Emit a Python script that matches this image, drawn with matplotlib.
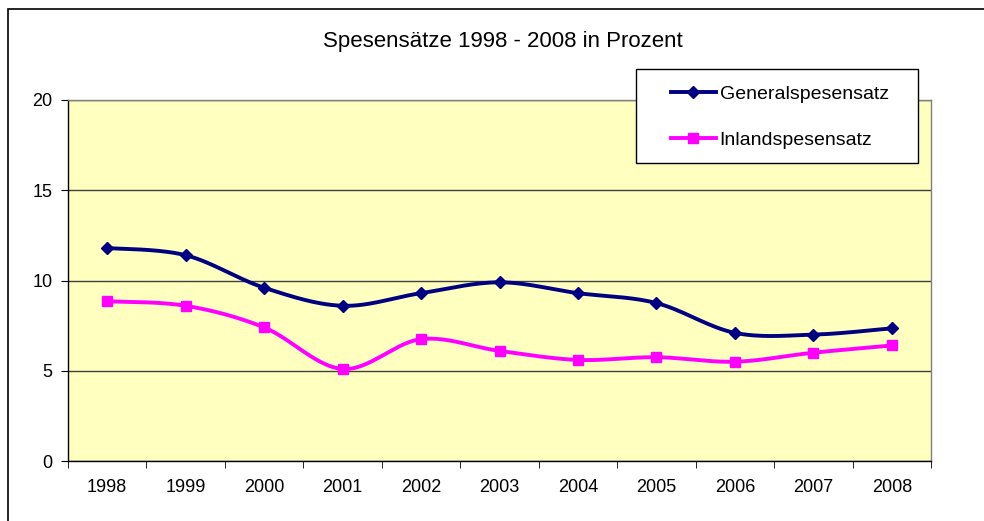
import numpy as np
import matplotlib
matplotlib.use("Agg")
import matplotlib.pyplot as plt
from matplotlib.patches import Rectangle
from matplotlib.lines import Line2D

years = ["1998", "1999", "2000", "2001", "2002", "2003", "2004", "2005", "2006", "2007", "2008"]
general = [11.8, 11.4, 9.6, 8.6, 9.3, 9.9, 9.3, 8.75, 7.1, 7.0, 7.35]
inland = [8.85, 8.6, 7.4, 5.1, 6.75, 6.1, 5.6, 5.75, 5.5, 6.0, 6.4]
title = "Spesensätze 1998 - 2008 in Prozent"
yticks = [0, 5, 10, 15, 20]

plt.rcParams['font.family'] = ['Liberation Sans', 'DejaVu Sans']


def smooth(xs, ys, n=30):
    # Excel-style smoothed line: cubic Bezier with Catmull-Rom control points
    xs = np.asarray(xs, float)
    ys = np.asarray(ys, float)
    P = np.column_stack([xs, ys])
    out = [P[0]]
    for i in range(len(P) - 1):
        p0 = P[i - 1] if i > 0 else P[i]
        p1 = P[i]
        p2 = P[i + 1]
        p3 = P[i + 2] if i + 2 < len(P) else P[i + 1]
        c1 = p1 + (p2 - p0) / 6.0
        c2 = p2 - (p3 - p1) / 6.0
        t = np.linspace(0, 1, n)[1:, None]
        seg = ((1 - t) ** 3) * p1 + 3 * ((1 - t) ** 2) * t * c1 + 3 * (1 - t) * t ** 2 * c2 + t ** 3 * p2
        out.extend(seg)
    out = np.array(out)
    return out[:, 0], out[:, 1]


W, H = 984, 521
fig = plt.figure(figsize=(W / 100, H / 100), dpi=100)
fig.patch.set_facecolor("white")

# outer chart frame (cut off at right and bottom)
fig.patches.append(Rectangle((8 / W, -0.2), 1.5, 1.2 - 9 / H, transform=fig.transFigure,
                             fill=False, edgecolor="black", linewidth=1.2, zorder=0))

ax = fig.add_axes([68 / W, (H - 461) / H, (931 - 68) / W, (461 - 100) / H])
ax.set_facecolor("#FFFFC0")

x = np.arange(len(years))
gx, gy = smooth(x, general)
ix, iy = smooth(x, inland)
ax.plot(gx, gy, color="#000080", lw=2.8, solid_capstyle="round", zorder=3)
ax.plot(x, general, linestyle="none", marker="D", markersize=6.5, color="#000080", zorder=4)
ax.plot(ix, iy, color="#FF00FF", lw=2.8, solid_capstyle="round", zorder=3)
ax.plot(x, inland, linestyle="none", marker="s", markersize=6.5, color="#FF00FF", zorder=4)

ax.set_xlim(-0.5, len(years) - 0.5)
ax.set_ylim(0, 20)
ax.set_yticks(yticks)
ax.set_yticklabels([str(v) for v in yticks], fontsize=13)
ax.yaxis.grid(True, color="#404040", lw=1.0)
ax.set_axisbelow(True)

ax.set_xticks(x)
ax.set_xticklabels(years, fontsize=13)
ax.tick_params(axis="x", length=0, pad=13)
ax.set_xticks(np.arange(-0.5, len(years)), minor=True)
ax.tick_params(axis="x", which="minor", length=5, direction="out", color="black")
ax.tick_params(axis="y", length=5, direction="out", pad=6)

for s in ["top", "right"]:
    ax.spines[s].set_color("#808080")
    ax.spines[s].set_linewidth(1.0)
for s in ["left", "bottom"]:
    ax.spines[s].set_color("black")
    ax.spines[s].set_linewidth(1.0)

fig.text(503 / W, 1 - 42 / H, title, ha="center", va="center", fontsize=16)

# legend frame
fig.patches.append(Rectangle((636 / W, 1 - 163 / H), (918 - 636) / W, (163 - 69) / H,
                             transform=fig.transFigure, facecolor="white", edgecolor="black",
                             linewidth=1.0, zorder=9))

handles = [
    Line2D([], [], color="#000080", lw=2.8, marker="D", markersize=6.5),
    Line2D([], [], color="#FF00FF", lw=2.8, marker="s", markersize=6.5),
]
leg = fig.legend(handles, ["Generalspesensatz", "Inlandspesensatz"],
                 loc="center", bbox_to_anchor=(780 / W, 1 - 117 / H),
                 fontsize=14, frameon=False,
                 handlelength=2.3, handletextpad=0.2, labelspacing=1.45,
                 borderpad=0.0, borderaxespad=0)
leg.set_zorder(10)

fig.savefig("out.png", dpi=100)
